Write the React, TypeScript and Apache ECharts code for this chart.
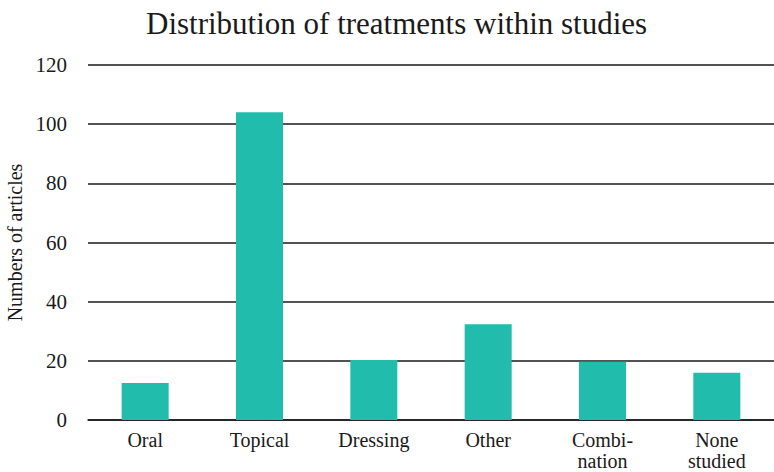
import React, { useEffect, useRef } from "react";
import * as echarts from "echarts";

const categories = ["Oral", "Topical", "Dressing", "Other", "Combi-\nnation", "None\nstudied"];
const values = [12.5, 104, 20.3, 32.4, 19.7, 16];
const yTicks = { min: 0, max: 120, interval: 20 };

const FONT = "'Liberation Serif', 'DejaVu Serif', serif";

export default function App() {
  const ref = useRef<HTMLDivElement>(null);
  useEffect(() => {
    document.body.style.margin = "0";
    const chart = echarts.init(ref.current!, null, { renderer: "svg" });
    chart.setOption({
      animation: false,
      backgroundColor: "#ffffff",
      title: {
        text: "Distribution of treatments within studies",
        left: 141,
        top: 3,
        textStyle: { fontFamily: FONT, fontSize: 31, fontWeight: "normal", color: "#1a1a1a" },
      },
      grid: { left: 88, right: 0, top: 65, bottom: 52, containLabel: false, outerBoundsMode: "none" },
      xAxis: {
        type: "category",
        data: categories,
        axisLine: { show: true, lineStyle: { color: "#1a1a1a", width: 1.5 } },
        axisTick: { show: false },
        axisLabel: {
          fontFamily: FONT,
          fontSize: 20,
          color: "#1a1a1a",
          margin: 9,
          lineHeight: 21,
          interval: 0,
        },
      },
      yAxis: {
        type: "value",
        min: yTicks.min,
        max: yTicks.max,
        interval: yTicks.interval,
        name: "Numbers of articles",
        nameLocation: "middle",
        nameGap: 61,
        nameRotate: 90,
        nameTextStyle: { fontFamily: FONT, fontSize: 20, color: "#1a1a1a" },
        axisLine: { show: false },
        axisTick: { show: false },
        axisLabel: { fontFamily: FONT, fontSize: 21, color: "#1a1a1a", margin: 21 },
        splitLine: { show: true, lineStyle: { color: "#1a1a1a", width: 1.5 } },
      },
      series: [
        {
          type: "bar",
          data: values,
          barWidth: 47,
          itemStyle: { color: "#21bcac" },
          z: 3,
        },
      ],
    });
    return () => chart.dispose();
  }, []);
  return (
    <div
      ref={ref}
      style={{ position: "absolute", left: 0, top: 0, width: 774, height: 472 }}
    />
  );
}
